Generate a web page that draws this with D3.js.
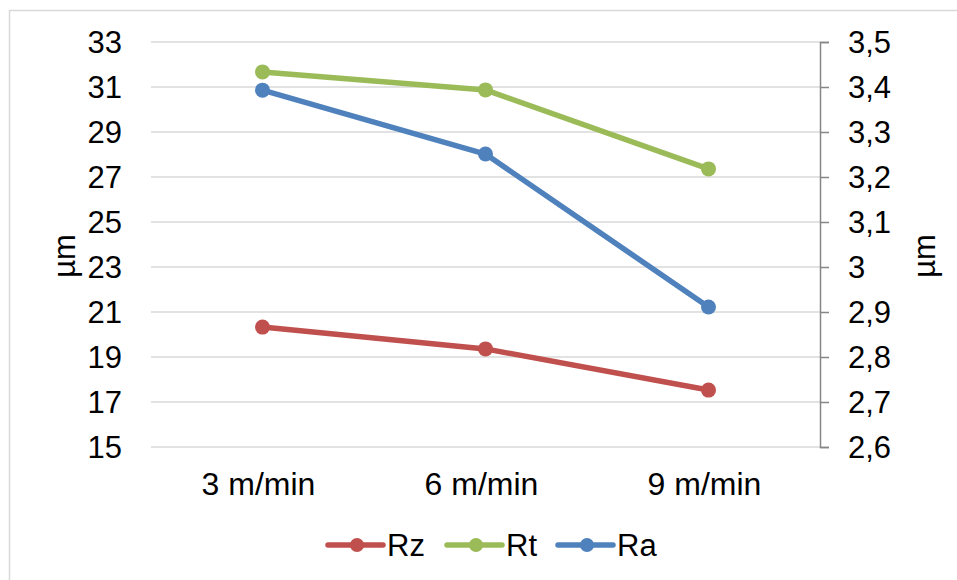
<!DOCTYPE html>
<html>
<head>
<meta charset="utf-8">
<script src="https://cdn.jsdelivr.net/npm/d3@7"></script>
<style>
  body { margin: 0; background: #fff; }
  text { font-family: "Liberation Sans", Arial, sans-serif; fill: #000; }
</style>
</head>
<body>
<div id="vis"></div>
<script>
  // categories and series values
  const categories = ["3 m/min", "6 m/min", "9 m/min"];
  const rzValues = [20.33, 19.36, 17.53];
  const rtValues = [31.67, 30.87, 27.36];
  const raValues = [3.393, 3.251, 2.911];
  const leftTicks = [15, 17, 19, 21, 23, 25, 27, 29, 31, 33];
  const rightTicks = [2.6, 2.7, 2.8, 2.9, 3.0, 3.1, 3.2, 3.3, 3.4, 3.5];

  const width = 957;
  const height = 580;
  const plot = { left: 151, right: 820, top: 42, bottom: 447 };

  const svg = d3.select('#vis')
    .append('svg')
    .attr('width', width)
    .attr('height', height);

  // light frame round the chart
  svg.append('rect')
    .attr('x', 9.5)
    .attr('y', 10.5)
    .attr('width', width + 20)
    .attr('height', height + 20)
    .attr('fill', 'none')
    .attr('stroke', '#d9d9d9')
    .attr('stroke-width', 1.5);

  const x = d3.scaleBand()
    .domain(categories)
    .range([plot.left, plot.right]);

  const yLeft = d3.scaleLinear()
    .domain([15, 33])
    .range([plot.bottom, plot.top]);

  const yRight = d3.scaleLinear()
    .domain([2.6, 3.5])
    .range([plot.bottom, plot.top]);

  // gridlines
  svg.append('g')
    .selectAll('line')
    .data(leftTicks)
    .enter()
    .append('line')
    .attr('x1', plot.left)
    .attr('x2', plot.right)
    .attr('y1', d => yLeft(d))
    .attr('y2', d => yLeft(d))
    .attr('stroke', '#d9d9d9')
    .attr('stroke-width', 1.5);

  // left axis labels
  const leftAxis = svg.append('g')
    .attr('transform', `translate(${plot.left},0)`)
    .call(d3.axisLeft(yLeft).tickValues(leftTicks).tickSize(0).tickPadding(29));
  leftAxis.select('.domain').remove();
  leftAxis.selectAll('text')
    .style('font-size', '31px')
    .attr('font-family', null)
    .attr('dy', '0.35em');

  // right axis
  const rightAxis = svg.append('g')
    .attr('transform', `translate(${plot.right},0)`)
    .call(d3.axisRight(yRight)
      .tickValues(rightTicks)
      .tickSize(9)
      .tickSizeOuter(9)
      .tickPadding(19)
      .tickFormat(d => d3.format('.1~f')(d).replace('.', ',')));
  rightAxis.selectAll('.domain, line')
    .attr('stroke', '#868686')
    .attr('stroke-width', 1.5);
  rightAxis.selectAll('text')
    .style('font-size', '31px')
    .attr('font-family', null)
    .attr('dy', '0.35em');

  // category labels
  const bottomAxis = svg.append('g')
    .attr('transform', `translate(0,${plot.bottom})`)
    .call(d3.axisBottom(x).tickSize(0).tickPadding(25));
  bottomAxis.select('.domain').remove();
  bottomAxis.selectAll('text')
    .style('font-size', '32px')
    .attr('font-family', null)
    .attr('dx', '-4');

  // axis titles
  svg.append('text')
    .attr('transform', 'translate(75,256) rotate(-90)')
    .attr('text-anchor', 'middle')
    .style('font-size', '31px')
    .text('µm');
  svg.append('text')
    .attr('transform', 'translate(935,256) rotate(-90)')
    .attr('text-anchor', 'middle')
    .style('font-size', '31px')
    .text('µm');

  const series = [
    { name: 'Rz', values: rzValues, y: yLeft, colour: '#c0504d' },
    { name: 'Rt', values: rtValues, y: yLeft, colour: '#9bbb59' },
    { name: 'Ra', values: raValues, y: yRight, colour: '#4f81bd' }
  ];

  const cx = c => x(c) + x.bandwidth() / 2;

  series.forEach(s => {
    const pts = categories.map((c, i) => [cx(c), s.y(s.values[i])]);
    svg.append('path')
      .attr('d', d3.line()(pts))
      .attr('fill', 'none')
      .attr('stroke', s.colour)
      .attr('stroke-width', 5.5)
      .attr('stroke-linejoin', 'round');
    svg.append('g')
      .selectAll('circle')
      .data(pts)
      .enter()
      .append('circle')
      .attr('cx', d => d[0])
      .attr('cy', d => d[1])
      .attr('r', 7.5)
      .attr('fill', s.colour);
  });

  // legend
  const legendX = [328, 447, 558];
  const legend = svg.append('g');
  series.forEach((s, i) => {
    const g = legend.append('g').attr('transform', `translate(${legendX[i]},545)`);
    g.append('line')
      .attr('x1', 0).attr('x2', 55)
      .attr('stroke', s.colour)
      .attr('stroke-width', 5.5)
      .attr('stroke-linecap', 'round');
    g.append('circle')
      .attr('cx', 29)
      .attr('r', 7)
      .attr('fill', s.colour);
    g.append('text')
      .attr('x', 59)
      .attr('dy', '0.35em')
      .style('font-size', '31px')
      .text(s.name);
  });
</script>
</body>
</html>
